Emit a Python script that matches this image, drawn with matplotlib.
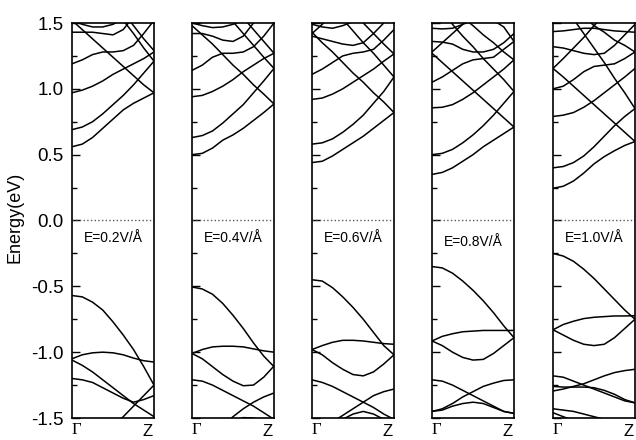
# import modules
import matplotlib.pyplot as plt
from matplotlib.ticker import MultipleLocator

# k-path from Gamma (0) to Z (1), same sample points for every band
k = [0, 0.125, 0.25, 0.375, 0.5, 0.625, 0.75, 0.875, 1.0]

field_labels = ['E=0.2V/Å', 'E=0.4V/Å', 'E=0.6V/Å', 'E=0.8V/Å', 'E=1.0V/Å']

# bands (eV); values beyond +-1.5 are off the frame
bands_02 = [
    [0.56, 0.58, 0.63, 0.70, 0.77, 0.84, 0.89, 0.93, 0.97],
    [0.69, 0.71, 0.75, 0.81, 0.88, 0.95, 1.03, 1.12, 1.21],
    [0.97, 0.99, 1.02, 1.06, 1.11, 1.15, 1.19, 1.23, 1.28],
    [1.19, 1.22, 1.26, 1.28, 1.28, 1.29, 1.33, 1.42, 1.52],
    [1.52, 1.45, 1.38, 1.31, 1.24, 1.17, 1.10, 1.03, 0.97],
    [1.90, 1.83, 1.76, 1.70, 1.62, 1.52, 1.42, 1.31, 1.21],
    [2.00, 1.92, 1.84, 1.76, 1.68, 1.58, 1.48, 1.38, 1.29],
    [1.43, 1.43, 1.43, 1.42, 1.41, 1.45, 1.55, 1.65, 1.75],
    [1.52, 1.49, 1.47, 1.47, 1.49, 1.53, 1.58, 1.63, 1.68],
    [-0.57, -0.58, -0.62, -0.68, -0.77, -0.87, -0.98, -1.11, -1.25],
    [-1.05, -1.02, -1.005, -1.0, -1.005, -1.02, -1.045, -1.065, -1.075],
    [-1.06, -1.10, -1.15, -1.21, -1.27, -1.33, -1.39, -1.44, -1.49],
    [-1.20, -1.21, -1.23, -1.27, -1.31, -1.35, -1.38, -1.36, -1.33],
    [-1.90, -1.82, -1.74, -1.66, -1.57, -1.49, -1.41, -1.33, -1.25],
]

bands_04 = [
    [0.50, 0.51, 0.55, 0.61, 0.65, 0.70, 0.76, 0.82, 0.885],
    [0.63, 0.645, 0.68, 0.74, 0.81, 0.88, 0.97, 1.06, 1.155],
    [0.94, 0.95, 0.98, 1.02, 1.07, 1.13, 1.18, 1.23, 1.27],
    [1.14, 1.18, 1.24, 1.27, 1.27, 1.28, 1.32, 1.40, 1.50],
    [1.48, 1.41, 1.34, 1.26, 1.18, 1.11, 1.03, 0.96, 0.885],
    [1.90, 1.80, 1.70, 1.60, 1.51, 1.42, 1.33, 1.24, 1.155],
    [2.00, 1.90, 1.81, 1.72, 1.63, 1.54, 1.45, 1.36, 1.27],
    [1.42, 1.42, 1.40, 1.37, 1.36, 1.40, 1.50, 1.60, 1.70],
    [1.50, 1.48, 1.465, 1.47, 1.49, 1.52, 1.56, 1.60, 1.64],
    [-0.505, -0.52, -0.56, -0.63, -0.72, -0.82, -0.93, -1.03, -1.11],
    [-1.01, -0.98, -0.96, -0.955, -0.955, -0.96, -0.975, -0.99, -1.0],
    [-1.01, -1.05, -1.11, -1.17, -1.22, -1.255, -1.25, -1.19, -1.105],
    [-1.21, -1.22, -1.25, -1.29, -1.33, -1.37, -1.41, -1.46, -1.51],
    [-1.80, -1.72, -1.64, -1.56, -1.49, -1.43, -1.38, -1.34, -1.31],
    [-1.70, -1.64, -1.59, -1.55, -1.53, -1.497, -1.50, -1.55, -1.60],
]

bands_06 = [
    [0.44, 0.45, 0.49, 0.54, 0.59, 0.64, 0.70, 0.76, 0.82],
    [0.58, 0.59, 0.62, 0.67, 0.73, 0.80, 0.89, 0.98, 1.09],
    [0.92, 0.93, 0.96, 1.00, 1.05, 1.10, 1.15, 1.21, 1.265],
    [1.11, 1.15, 1.20, 1.25, 1.27, 1.28, 1.30, 1.37, 1.45],
    [1.43, 1.35, 1.28, 1.20, 1.12, 1.05, 0.97, 0.90, 0.82],
    [1.80, 1.71, 1.62, 1.53, 1.44, 1.35, 1.27, 1.18, 1.09],
    [1.90, 1.82, 1.74, 1.66, 1.58, 1.50, 1.42, 1.34, 1.265],
    [1.40, 1.38, 1.36, 1.34, 1.33, 1.35, 1.42, 1.50, 1.58],
    [1.49, 1.47, 1.46, 1.48, 1.51, 1.55, 1.59, 1.63, 1.67],
    [1.42, 1.49, 1.56, 1.63, 1.70, 1.77, 1.84, 1.91, 1.98],
    [-0.45, -0.46, -0.51, -0.58, -0.66, -0.75, -0.85, -0.95, -1.02],
    [-0.98, -0.95, -0.925, -0.91, -0.91, -0.915, -0.925, -0.935, -0.94],
    [-0.98, -1.02, -1.08, -1.13, -1.17, -1.18, -1.15, -1.09, -1.02],
    [-1.21, -1.23, -1.26, -1.30, -1.34, -1.38, -1.42, -1.47, -1.51],
    [-1.65, -1.60, -1.53, -1.48, -1.43, -1.38, -1.33, -1.30, -1.28],
    [-1.65, -1.60, -1.56, -1.51, -1.47, -1.45, -1.47, -1.51, -1.56],
]

bands_08 = [
    [0.35, 0.365, 0.40, 0.45, 0.50, 0.56, 0.61, 0.66, 0.71],
    [0.50, 0.51, 0.54, 0.59, 0.65, 0.72, 0.80, 0.89, 0.98],
    [0.856, 0.86, 0.88, 0.92, 0.97, 1.03, 1.09, 1.15, 1.22],
    [1.05, 1.09, 1.14, 1.19, 1.22, 1.23, 1.24, 1.30, 1.36],
    [1.27, 1.20, 1.13, 1.06, 0.99, 0.92, 0.85, 0.78, 0.71],
    [1.28, 1.35, 1.42, 1.49, 1.56, 1.63, 1.70, 1.77, 1.84],
    [1.66, 1.58, 1.49, 1.40, 1.32, 1.23, 1.15, 1.07, 0.98],
    [1.76, 1.68, 1.61, 1.54, 1.48, 1.41, 1.35, 1.28, 1.22],
    [1.90, 1.83, 1.77, 1.70, 1.64, 1.58, 1.52, 1.47, 1.36],
    [1.36, 1.355, 1.34, 1.30, 1.28, 1.28, 1.30, 1.35, 1.42],
    [1.46, 1.455, 1.46, 1.49, 1.52, 1.55, 1.58, 1.61, 1.64],
    [-0.35, -0.36, -0.40, -0.46, -0.53, -0.61, -0.70, -0.80, -0.89],
    [-0.915, -0.88, -0.86, -0.845, -0.84, -0.835, -0.835, -0.835, -0.835],
    [-0.915, -0.95, -1.00, -1.04, -1.06, -1.055, -1.01, -0.95, -0.89],
    [-1.21, -1.22, -1.25, -1.29, -1.33, -1.37, -1.41, -1.45, -1.465],
    [-1.45, -1.43, -1.39, -1.34, -1.30, -1.26, -1.235, -1.215, -1.21],
    [-1.45, -1.44, -1.41, -1.39, -1.38, -1.39, -1.42, -1.45, -1.465],
]

bands_10 = [
    [0.245, 0.26, 0.30, 0.36, 0.43, 0.485, 0.53, 0.57, 0.60],
    [0.40, 0.41, 0.44, 0.49, 0.56, 0.64, 0.72, 0.79, 0.85],
    [0.79, 0.80, 0.82, 0.86, 0.91, 0.97, 1.03, 1.09, 1.155],
    [1.00, 1.02, 1.07, 1.13, 1.17, 1.18, 1.19, 1.23, 1.28],
    [1.155, 1.09, 1.02, 0.95, 0.88, 0.81, 0.74, 0.67, 0.60],
    [1.155, 1.23, 1.31, 1.39, 1.48, 1.56, 1.64, 1.72, 1.80],
    [1.75, 1.64, 1.53, 1.42, 1.31, 1.20, 1.08, 0.97, 0.85],
    [1.80, 1.70, 1.62, 1.55, 1.48, 1.43, 1.37, 1.33, 1.28],
    [1.32, 1.31, 1.29, 1.27, 1.26, 1.27, 1.33, 1.41, 1.49],
    [1.435, 1.44, 1.45, 1.46, 1.46, 1.45, 1.44, 1.435, 1.43],
    [-0.25, -0.27, -0.31, -0.37, -0.44, -0.52, -0.60, -0.68, -0.75],
    [-0.83, -0.79, -0.765, -0.745, -0.735, -0.73, -0.725, -0.725, -0.723],
    [-0.83, -0.87, -0.91, -0.94, -0.95, -0.94, -0.89, -0.82, -0.75],
    [-1.18, -1.19, -1.22, -1.25, -1.28, -1.31, -1.34, -1.37, -1.385],
    [-1.295, -1.28, -1.26, -1.24, -1.21, -1.18, -1.155, -1.14, -1.13],
    [-1.26, -1.265, -1.265, -1.265, -1.27, -1.29, -1.32, -1.36, -1.385],
    [-1.43, -1.44, -1.45, -1.47, -1.49, -1.51, -1.53, -1.55, -1.57],
    [-1.46, -1.49, -1.52, -1.55, -1.58, -1.61, -1.64, -1.67, -1.70],
]

all_bands = [bands_02, bands_04, bands_06, bands_08, bands_10]
label_y = [-0.135, -0.135, -0.135, -0.16, -0.135]

y_ticks = [-1.5, -1.0, -0.5, 0.0, 0.5, 1.0, 1.5]
y_tick_labels = ['-1.5', '-1.0', '-0.5', '0.0', '0.5', '1.0', '1.5']


def main():
    plt.rcParams['font.family'] = ['Liberation Sans', 'DejaVu Sans']

    # set figure size
    fig = plt.figure(figsize=(6.36, 4.4), dpi=100)

    # panel left edges in pixels
    lefts = [72, 192, 312, 432, 553]

    for i, bands in enumerate(all_bands):
        ax = fig.add_axes([lefts[i] / 636, 22 / 440, 82 / 636, 395 / 440])

        # band lines
        for b in bands:
            ax.plot(k, b, color='black', linewidth=1.1)

        # Fermi level
        ax.axhline(0, color='0.35', linestyle=':', linewidth=1.0)

        ax.text(0.5, label_y[i], field_labels[i], ha='center', va='center',
                fontsize=10)

        ax.set_xlim(0, 1)
        ax.set_ylim(-1.5, 1.5)

        # k-point labels
        ax.set_xticks([])
        ax.text(0.0, -1.625, 'Γ', family='Liberation Serif', ha='left',
                va='baseline', fontsize=12)
        ax.text(0.98, -1.635, 'Z', ha='right', va='baseline', fontsize=12)

        ax.set_yticks(y_ticks)
        ax.yaxis.set_minor_locator(MultipleLocator(0.25))
        ax.tick_params(axis='y', which='both', direction='in',
                       left=True, right=False)
        ax.tick_params(axis='y', which='major', length=6, width=1.0, pad=6)
        ax.tick_params(axis='y', which='minor', length=3.5, width=1.0)
        if i == 0:
            ax.set_yticklabels(y_tick_labels, fontsize=13.5)
        else:
            ax.set_yticklabels([])

        for s in ax.spines.values():
            s.set_linewidth(1.2)

    # y axis title
    fig.text(15 / 636, 0.505, 'Energy(eV)', rotation=90, ha='center',
             va='center', fontsize=13)

    fig.savefig('out.png', dpi=100)


if __name__ == '__main__':
    main()
